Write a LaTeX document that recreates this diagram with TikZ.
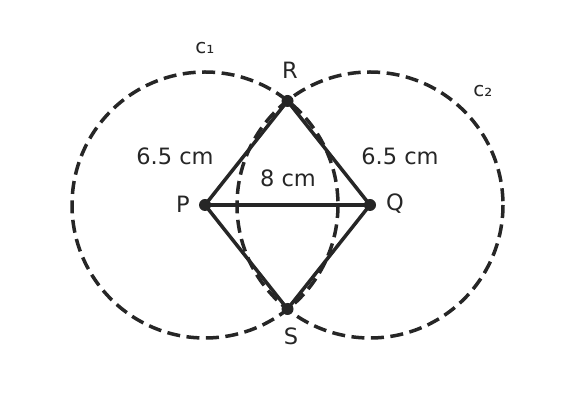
\documentclass[tikz,border=0pt]{standalone}
\usepackage{fontspec}
\setmainfont{DejaVu Sans}
\definecolor{ink}{HTML}{262626}
\begin{document}
\begin{tikzpicture}[x=1pt,y=-1pt,
  circ/.style={draw=ink,line width=3.5pt,dash pattern=on 13pt off 6.5pt},
  seg/.style={draw=ink,line width=3.5pt},
  pt/.style={circle,fill=ink,inner sep=0pt,minimum size=12pt},
  lab/.style={text=ink,font=\fontsize{22.5}{26}\selectfont,inner sep=0pt},
  sml/.style={text=ink,font=\fontsize{20}{22}\selectfont,inner sep=0pt}]
\useasboundingbox (0,0) rectangle (576,411);
\coordinate (cP) at (205,205);
\coordinate (cQ) at (370,205);
\draw[circ] (cP) circle[radius=133];
\draw[circ] (cQ) circle[radius=133];
\node[pt] (P) at (205,205) {};
\node[pt] (Q) at (370,205) {};
\node[pt] (R) at (287.5,101) {};
\node[pt] (S) at (287.5,309) {};
\draw[seg] (P.center) -- (Q.center);
\draw[seg] (P.center) -- (R.center) -- (Q.center) -- (S.center) -- cycle;
\node[lab] (lP) at (183,204) {P};
\node[lab] (lQ) at (395,204) {Q};
\node[lab] (lR) at (290,70) {R};
\node[lab] (lS) at (291,336) {S};
\node[lab] (d1) at (175,156) {6.5 cm};
\node[lab] (d2) at (400,156) {6.5 cm};
\node[lab] (d3) at (288,178) {8 cm};
\node[sml] (c1) at (205,48) {c₁};
\node[sml] (c2) at (483,91) {c₂};
\end{tikzpicture}
\end{document}
